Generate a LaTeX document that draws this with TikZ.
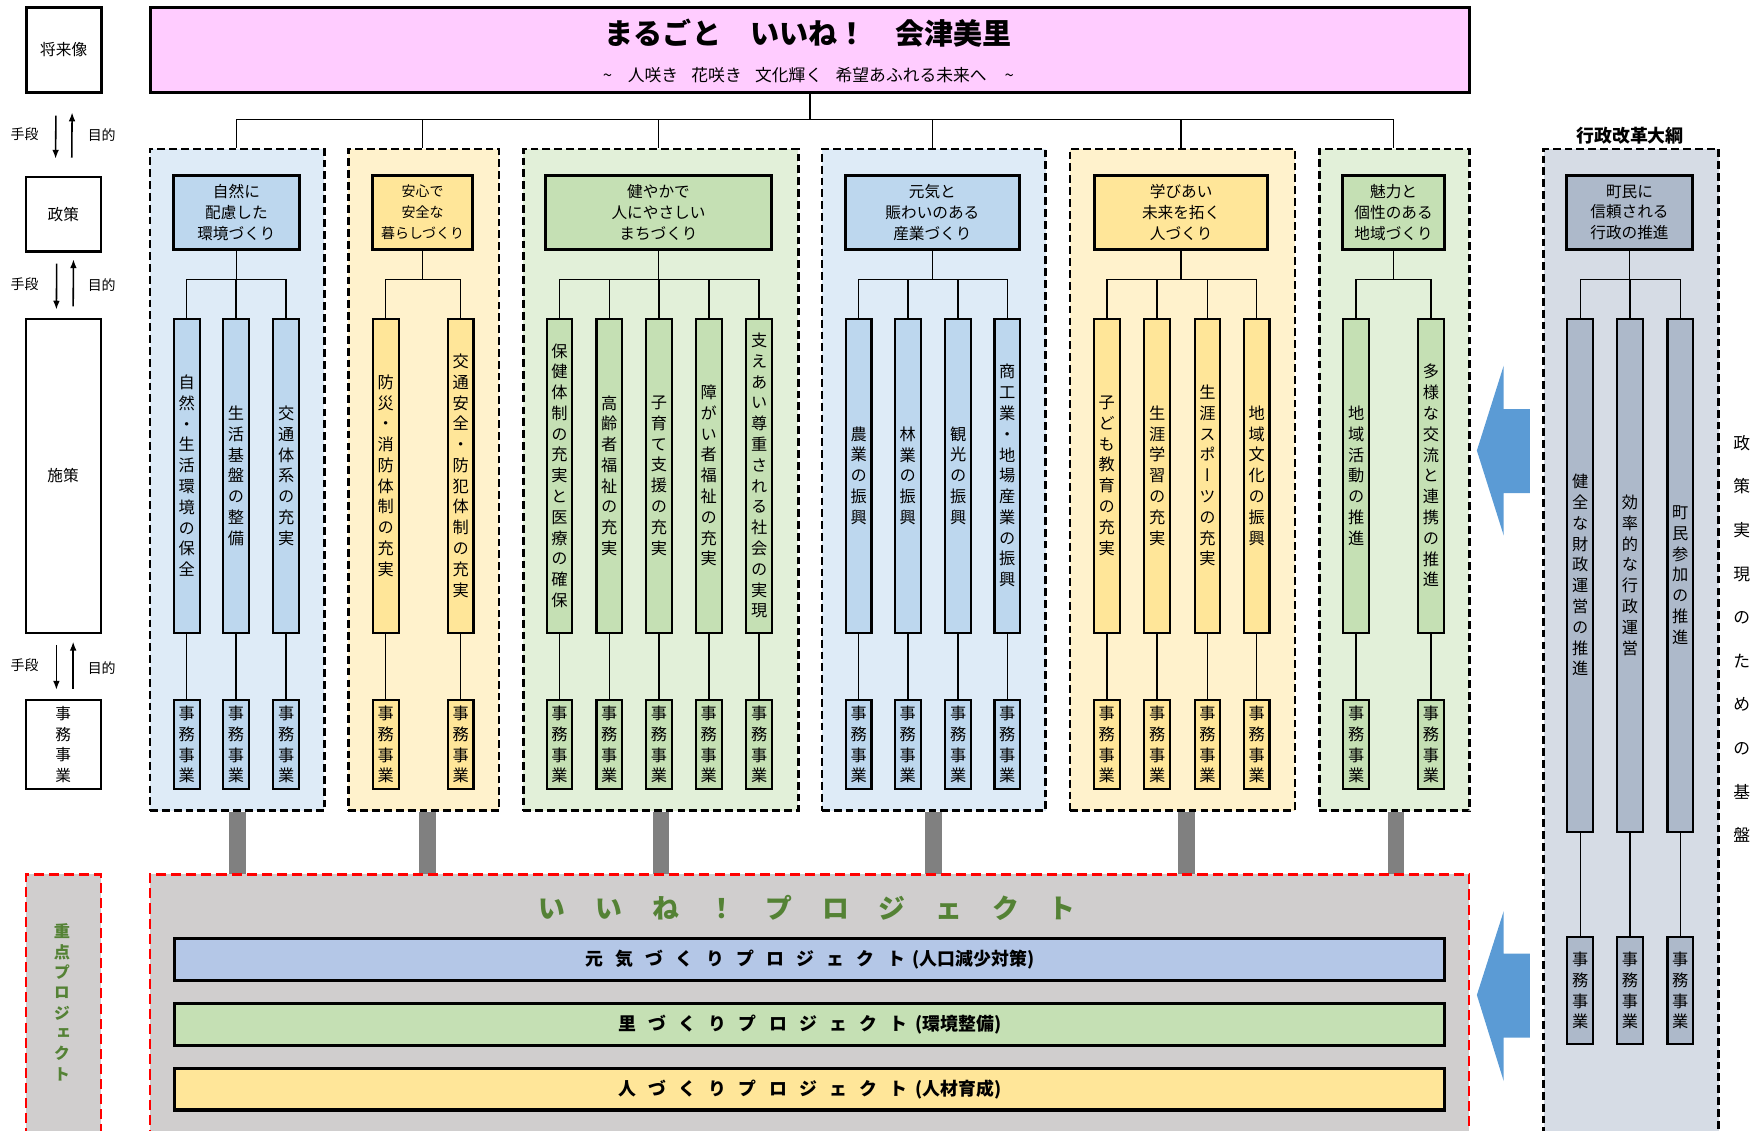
\documentclass[tikz,border=0pt]{standalone}
\usepackage{fontspec}
\usepackage{graphicx}
\setmainfont{Noto Sans CJK JP}
\newfontfamily\vfont{Noto Sans CJK JP}[RawFeature={+vert}]
\usetikzlibrary{arrows.meta,calc}
\definecolor{blueL}{HTML}{DEEBF7}
\definecolor{blueM}{HTML}{BDD7EE}
\definecolor{yelL}{HTML}{FFF2CC}
\definecolor{yelM}{HTML}{FFE699}
\definecolor{grnL}{HTML}{E2F0D9}
\definecolor{grnM}{HTML}{C5E0B4}
\definecolor{gryL}{HTML}{D6DCE5}
\definecolor{gryM}{HTML}{ADB9CA}
\definecolor{pinkT}{HTML}{FFCCFF}
\definecolor{iineBG}{HTML}{D0CECE}
\definecolor{projB}{HTML}{B4C7E7}
\definecolor{grnTxt}{HTML}{548235}
\definecolor{arrB}{HTML}{5B9BD5}
\definecolor{barG}{HTML}{808080}
\makeatletter
\def\vt#1{\vt@a#1\@nil}
\def\vt@a#1#2\@nil{#1\ifx\relax#2\relax\expandafter\@gobble\else\expandafter\@firstofone\fi{\\\vt@a#2\@nil}}
\makeatother
\tikzset{
  grp/.style={draw, line width=2.4pt, dash pattern=on 7pt off 3.6pt, inner sep=0pt, anchor=north west},
  redgrp/.style={draw=red, line width=2.2pt, dash pattern=on 9pt off 4.5pt, fill=iineBG, inner sep=0pt, anchor=north west},
  pol/.style={draw, line width=2.7pt, align=center, inner sep=0pt, font=\fontsize{14}{18.6}\selectfont, minimum height=66.5pt},
  ms/.style={draw, line width=1.9pt, minimum width=23pt, inner sep=0pt, anchor=north, align=center, font=\vfont\fontsize{14.5}{18.6}\selectfont},
  tree/.style={line width=1.4pt},
  lbox/.style={draw, inner sep=0pt, minimum width=67pt, anchor=north west, align=center, font=\fontsize{14}{18.5}\selectfont},
  side/.style={font=\fontsize{12.5}{14}\selectfont, inner sep=0pt},
  arr/.style={line width=1.4pt, -{Latex[length=8pt,width=6pt]}},
  gbar/.style={line width=15pt, draw=barG},
  proj/.style={draw, line width=2.8pt, minimum width=1136pt, minimum height=37.5pt, anchor=north west, inner sep=0pt, font=\bfseries\fontsize{16}{16}\selectfont},
}
\newcommand\kg{\hspace{11pt}}
\newcommand\ig{\hspace{26.7pt}}
\newcommand\meas[4]{%
  \node[ms, fill=#3, minimum height=281pt] (m#1) at (#2,284) {\vt{#4}};
  \node[ms, fill=#3, minimum height=80pt] (j#1) at (#2,625) {\vt{事務事業}};
  \draw[tree] (m#1.south) -- (j#1.north);
  \draw[tree] (m#1.north) -- (m#1.north |- bus);
}
\newcommand\measg[3]{%
  \node[ms, fill=gryM, minimum height=459pt] (m#1) at (#2,284) {\vt{#3}};
  \node[ms, fill=gryM, minimum height=96pt] (j#1) at (#2,837) {\vt{事務事業}};
  \draw[tree] (m#1.south) -- (j#1.north);
  \draw[tree] (m#1.north) -- (m#1.north |- bus);
}
\begin{document}
\begin{tikzpicture}[x=1pt,y=-1pt]
\useasboundingbox (0,0) rectangle (1568,1011);
\clip (0,0) rectangle (1568,1011);
\coordinate (bus) at (0,250);
\coordinate (tb) at (722,107);
% groups
\node[grp, fill=blueL, minimum width=156pt, minimum height=592pt] (g1) at (133,132) {};
\node[grp, fill=yelL, minimum width=134.5pt, minimum height=592pt] (g2) at (310.5,132) {};
\node[grp, fill=grnL, minimum width=246pt, minimum height=592pt] (g3) at (467,132) {};
\node[grp, fill=blueL, minimum width=200pt, minimum height=592pt] (g4) at (734,132) {};
\node[grp, fill=yelL, minimum width=201pt, minimum height=592pt] (g5) at (956,132) {};
\node[grp, fill=grnL, minimum width=134pt, minimum height=592pt] (g6) at (1179,132) {};
\node[grp, fill=gryL, minimum width=156.5pt, minimum height=900pt] (g7) at (1379.5,132) {};
\node[font=\bfseries\fontsize{16}{16}\selectfont] (gyo) at (1458,121) {行政改革大綱};
% gray bars
\draw[gbar] (g1.south) -- ($(g1.south)+(0,57)$);
\draw[gbar] ($(g2.south)+(3.5,0)$) -- ($(g2.south)+(3.5,57)$);
\draw[gbar] (g3.south) -- ($(g3.south)+(0,57)$);
\draw[gbar] (g4.south) -- ($(g4.south)+(0,57)$);
\draw[gbar] ($(g5.south)+(3.5,0)$) -- ($(g5.south)+(3.5,57)$);
\draw[gbar] ($(g6.south)+(1.5,0)$) -- ($(g6.south)+(1.5,57)$);
% project area
\node[redgrp, minimum width=1180pt, minimum height=260pt] (iine) at (133,781) {};
\node[redgrp, minimum width=67pt, minimum height=260pt] (jp) at (22,781) {};
\node[font=\vfont\bfseries\fontsize{14.5}{18.2}\selectfont, text=grnTxt, align=center, inner sep=0pt] (jpt) at (55.5,896.5) {\vt{重点プロジェクト}};
\node[font=\bfseries\fontsize{24}{24}\selectfont, text=grnTxt, inner sep=0pt] (it) at (722,812) {い\ig い\ig ね\ig ！\ig プ\ig ロ\ig ジ\ig ェ\ig ク\ig ト};
\node[proj, fill=projB] (pr1) at (155,838) {元\kg 気\kg づ\kg く\kg り\kg プ\kg ロ\kg ジ\kg ェ\kg ク\kg ト\hspace{7pt}(人口減少対策)};
\node[proj, fill=grnM] (pr2) at (155,896) {里\kg づ\kg く\kg り\kg プ\kg ロ\kg ジ\kg ェ\kg ク\kg ト\hspace{7pt}(環境整備)};
\node[proj, fill=yelM] (pr3) at (155,954) {人\kg づ\kg く\kg り\kg プ\kg ロ\kg ジ\kg ェ\kg ク\kg ト\hspace{7pt}(人材育成)};
% title
\node[draw, line width=3pt, fill=pinkT, minimum width=1180pt, minimum height=76.5pt, anchor=north west, inner sep=0pt] (title) at (133,5) {};
\node[font=\bfseries\fontsize{26}{26}\selectfont, inner sep=0pt] (tt) at (723,30) {まるごと　いいね！　会津美里};
\node[font=\fontsize{15}{15}\selectfont, inner sep=0pt] (ts) at (723,67) {\textasciitilde\hspace{14pt}人咲き\hspace{12pt}花咲き\hspace{12pt}文化輝く\hspace{12pt}希望あふれる未来へ\hspace{16pt}\textasciitilde};
% left column
\node[lbox, line width=3pt, minimum height=76.5pt] (lf1) at (22,5) {将来像};
\node[lbox, line width=2.4pt, minimum height=66.5pt] (lf2) at (22,157) {政策};
\node[lbox, line width=1.9pt, minimum height=281pt] (lf3) at (22,284) {施策};
\node[lbox, line width=1.9pt, minimum height=80pt] (lf4) at (22,625) {事\\務\\事\\業};
\draw[arr] ($(lf1.south)+(-7,19)$) -- ($(lf2.north)+(-7,-15)$);
\draw[arr] ($(lf2.north)+(7.5,-16)$) -- ($(lf1.south)+(7.5,16)$);
\draw[arr] ($(lf2.south)+(-6,10)$) -- ($(lf3.north)+(-6,-7)$);
\draw[arr] ($(lf3.north)+(9,-10)$) -- ($(lf2.south)+(9,6)$);
\draw[arr] ($(lf3.south)+(-6,10)$) -- ($(lf4.north)+(-6,-8)$);
\draw[arr] ($(lf4.north)+(9,-9)$) -- ($(lf3.south)+(9,7)$);
\node[side] (s1) at (22,120) {手段};
\node[side] (o1) at (91,121) {目的};
\node[side] (s2) at (22,254) {手段};
\node[side] (o2) at (91,255) {目的};
\node[side] (s3) at (22,595) {手段};
\node[side] (o3) at (91,598) {目的};
% policies
\node[pol, fill=blueM, minimum width=113pt] (p1) at (211.5,190) {自然に\\配慮した\\環境づくり};
\node[pol, fill=yelM, minimum width=90pt, font=\fontsize{12.5}{18.6}\selectfont] (p2) at (378,190) {安心で\\安全な\\暮らしづくり};
\node[pol, fill=grnM, minimum width=202pt] (p3) at (589,190) {健やかで\\人にやさしい\\まちづくり};
\node[pol, fill=blueM, minimum width=156pt] (p4) at (834,190) {元気と\\賑わいのある\\産業づくり};
\node[pol, fill=yelM, minimum width=155pt] (p5) at (1056.5,190) {学びあい\\未来を拓く\\人づくり};
\node[pol, fill=grnM, minimum width=91pt] (p6) at (1246.5,190) {魅力と\\個性のある\\地域づくり};
\node[pol, fill=gryM, minimum width=113pt] (p7) at (1457.5,190) {町民に\\信頼される\\行政の推進};
% top tree
\draw[tree] (title.south) -- (title.south |- tb);
\draw[tree] (p1.north |- tb) -- (p6.north |- tb);
\foreach \i in {1,...,6} \draw[tree] (p\i.north |- tb) -- (p\i.north |- g\i.north);
\foreach \i in {1,...,7} \draw[tree] (p\i.south) -- (p\i.south |- bus);
% measures
\meas{11}{167}{blueM}{自然・生活環境の保全}
\meas{12}{211}{blueM}{生活基盤の整備}
\meas{13}{256}{blueM}{交通体系の充実}
\meas{21}{345}{yelM}{防災・消防体制の充実}
\meas{22}{412}{yelM}{交通安全・防犯体制の充実}
\meas{31}{500.5}{grnM}{保健体制の充実と医療の確保}
\meas{32}{545}{grnM}{高齢者福祉の充実}
\meas{33}{589.5}{grnM}{子育て支援の充実}
\meas{34}{634}{grnM}{障がい者福祉の充実}
\meas{35}{679}{grnM}{支えあい尊重される社会の実現}
\meas{41}{768}{blueM}{農業の振興}
\meas{42}{812}{blueM}{林業の振興}
\meas{43}{857}{blueM}{観光の振興}
\meas{44}{901}{blueM}{商工業・地場産業の振興}
\meas{51}{990}{yelM}{子ども教育の充実}
\meas{52}{1035}{yelM}{生涯学習の充実}
\meas{53}{1080}{yelM}{生涯スポーツの充実}
\meas{54}{1124}{yelM}{地域文化の振興}
\meas{61}{1213}{grnM}{地域活動の推進}
\meas{62}{1280}{grnM}{多様な交流と連携の推進}
\measg{71}{1413.5}{健全な財政運営の推進}
\measg{72}{1458}{効率的な行政運営}
\measg{73}{1503}{町民参加の推進}
\draw[tree] (m11.north |- bus) -- (m13.north |- bus);
\draw[tree] (m21.north |- bus) -- (m22.north |- bus);
\draw[tree] (m31.north |- bus) -- (m35.north |- bus);
\draw[tree] (m41.north |- bus) -- (m44.north |- bus);
\draw[tree] (m51.north |- bus) -- (m54.north |- bus);
\draw[tree] (m61.north |- bus) -- (m62.north |- bus);
\draw[tree] (m71.north |- bus) -- (m73.north |- bus);
% blue arrows
\fill[arrB] (1321,403) -- (1345,327) -- (1345,366) -- (1368.5,366) -- (1368.5,441) -- (1345,441) -- (1345,479) -- cycle;
\fill[arrB] (1321,890) -- (1345,815) -- (1345,853) -- (1368.5,853) -- (1368.5,928) -- (1345,928) -- (1345,967) -- cycle;
% right vertical text
\node[font=\fontsize{15}{39}\selectfont, align=center, inner sep=0pt] (kiban) at (1558,571.5) {\vt{政策実現のための基盤}};
\end{tikzpicture}
\end{document}
